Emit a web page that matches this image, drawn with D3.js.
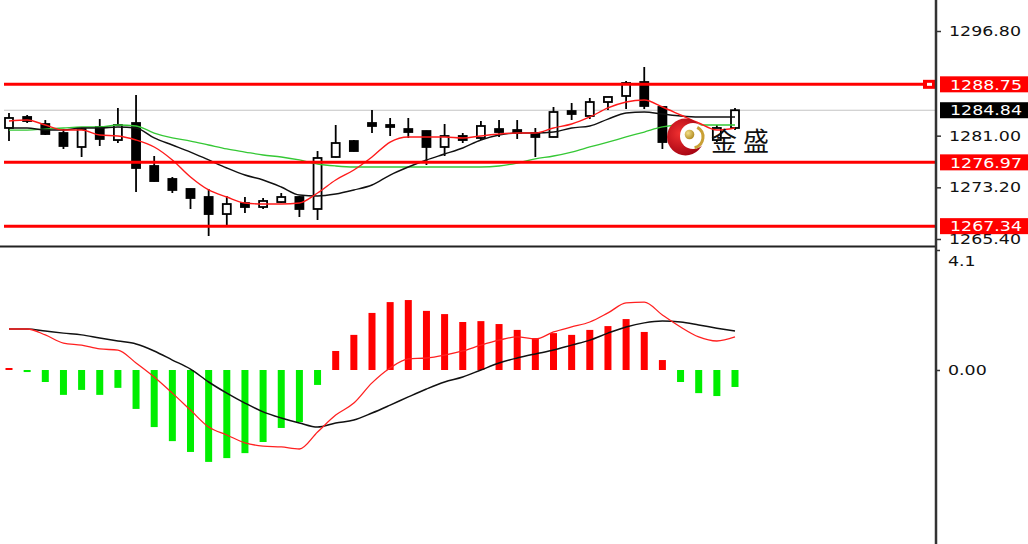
<!DOCTYPE html>
<html><head><meta charset="utf-8">
<script src="https://cdn.jsdelivr.net/npm/d3@7"></script>
<style>html,body{margin:0;padding:0;background:#fff;overflow:hidden}</style>
</head><body><svg id="c" width="1028" height="544" style="display:block"></svg>
<script>
// ---------- DATA ----------
const opens  = [1282.16,1283.82,1282.76,1281.40,1279.29,1282.31,1280.34,1282.91,1276.42,1274.46,1272.95,1271.74,1269.17,1270.83,1270.23,1270.98,1271.74,1269.93,1277.78,1280.19,1282.91,1282.61,1282.00,1281.70,1279.29,1280.95,1280.65,1282.00,1281.85,1281.40,1280.80,1284.72,1283.97,1286.08,1286.99,1289.10,1285.33,1280.80,1280.65,1280.34,1282.16];
const highs  = [1284.42,1284.12,1283.36,1282.00,1282.16,1283.51,1285.18,1287.14,1277.93,1274.76,1273.00,1272.95,1271.89,1271.74,1271.59,1272.34,1271.89,1278.68,1282.61,1280.34,1284.87,1283.67,1283.67,1281.75,1282.76,1281.40,1283.21,1283.36,1283.36,1282.16,1285.33,1285.93,1286.69,1286.84,1289.25,1291.37,1285.40,1281.85,1281.85,1282.61,1285.18];
const lows   = [1280.19,1282.91,1281.10,1278.99,1277.78,1279.44,1279.89,1272.49,1274.05,1272.34,1269.93,1265.85,1267.36,1269.32,1269.93,1270.83,1268.72,1268.27,1277.70,1278.60,1281.40,1280.95,1280.65,1276.57,1277.93,1279.89,1280.34,1280.80,1280.50,1277.78,1280.75,1283.36,1283.51,1284.87,1285.02,1285.02,1278.99,1279.14,1279.59,1280.04,1281.85];
const closes = [1283.67,1283.21,1281.25,1279.44,1282.00,1280.50,1282.61,1276.12,1274.15,1272.80,1271.59,1269.17,1270.68,1270.23,1271.14,1271.74,1269.93,1277.63,1279.89,1278.68,1282.46,1282.31,1281.55,1279.29,1280.95,1280.34,1282.46,1281.55,1281.40,1280.80,1284.57,1284.27,1286.08,1286.84,1288.95,1285.48,1280.04,1280.34,1281.25,1282.16,1284.84];

const maRed   = [1283.21,1283.36,1282.61,1281.85,1281.85,1281.10,1280.95,1280.34,1279.29,1277.33,1274.76,1272.80,1271.74,1270.83,1270.68,1270.68,1270.83,1272.34,1274.31,1275.82,1277.78,1280.04,1280.80,1280.80,1280.80,1280.65,1280.95,1281.25,1281.40,1281.40,1282.16,1282.76,1283.82,1285.18,1286.08,1286.38,1285.33,1284.12,1282.91,1281.85,1282.16];
const maBlack = [1282.16,1282.16,1281.85,1281.85,1282.16,1282.16,1282.31,1282.16,1280.65,1279.59,1278.53,1277.33,1276.12,1275.06,1274.31,1273.25,1272.04,1271.89,1272.19,1272.80,1273.55,1275.06,1276.27,1277.33,1278.23,1279.14,1280.34,1281.10,1281.40,1281.40,1281.55,1282.16,1282.46,1283.51,1284.42,1284.57,1284.27,1283.97,1283.82,1283.82,1283.82];
const maGreen = [1281.85,1281.85,1282.00,1282.16,1282.31,1282.31,1282.61,1282.46,1281.40,1280.65,1280.19,1279.59,1278.99,1278.53,1278.08,1277.78,1277.33,1276.72,1276.42,1276.27,1276.27,1276.27,1276.27,1276.27,1276.27,1276.27,1276.27,1276.42,1276.87,1277.48,1277.93,1278.53,1279.29,1280.04,1280.80,1281.55,1282.31,1282.61,1282.61,1282.61,1282.61];

const macdHist  = [0.05,-0.07,-0.41,-0.85,-0.68,-0.85,-0.61,-1.33,-1.95,-2.43,-2.80,-3.14,-3.01,-2.84,-2.46,-1.98,-1.78,-0.51,0.65,1.20,1.95,2.32,2.39,2.02,1.91,1.64,1.67,1.57,1.37,1.09,1.26,1.20,1.37,1.50,1.74,1.30,0.34,-0.41,-0.79,-0.89,-0.58];
const macdBlack = [1.40,1.40,1.33,1.26,1.20,1.09,0.99,0.89,0.65,0.34,0.03,-0.41,-0.79,-1.13,-1.43,-1.64,-1.81,-1.95,-1.81,-1.71,-1.47,-1.20,-0.92,-0.65,-0.41,-0.24,0.00,0.24,0.41,0.55,0.68,0.85,1.02,1.26,1.47,1.61,1.67,1.64,1.54,1.43,1.33];
const macdRed   = [1.40,1.40,1.20,0.92,0.85,0.72,0.68,0.24,-0.24,-0.79,-1.37,-1.95,-2.22,-2.49,-2.60,-2.63,-2.70,-2.12,-1.54,-1.13,-0.44,0.07,0.38,0.41,0.51,0.65,0.85,1.02,1.13,1.06,1.30,1.47,1.64,1.95,2.29,2.32,1.88,1.47,1.13,0.99,1.13];

const priceTicks = [1296.80, 1281.00, 1273.20, 1265.40];
const levels = [1288.75, 1276.97, 1267.34];
const lastPrice = 1284.84;
const macdTicks = [4.1, 0.00];
const macdTickLabels = ["4.1", "0.00"];
const brandText = "金盛";

// ---------- SCALES ----------
const svg = d3.select("#c");
const axisX = 936;
const x = d3.scaleLinear().domain([0, 40]).range([9, 735]);
const y = d3.scaleLinear().domain([1265.40, 1296.80]).range([239, 31]);
const ym = d3.scaleLinear().domain([0, 4.1]).range([370, 250]);
const idx = d3.range(opens.length);
const FONT = "'DejaVu Sans', Verdana, sans-serif";

svg.append("defs").call(d => {
  d.append("clipPath").attr("id","cm").append("rect").attr("x",0).attr("y",0).attr("width",axisX).attr("height",245);
  d.append("clipPath").attr("id","cd").append("rect").attr("x",0).attr("y",249).attr("width",axisX).attr("height",295);
  const g = d.append("radialGradient").attr("id","rg").attr("cx","35%").attr("cy","40%").attr("r","70%");
  g.append("stop").attr("offset","0%").attr("stop-color","#f03030");
  g.append("stop").attr("offset","100%").attr("stop-color","#a00010");
  const g2 = d.append("radialGradient").attr("id","gg").attr("cx","35%").attr("cy","35%").attr("r","70%");
  g2.append("stop").attr("offset","0%").attr("stop-color","#f4e08a");
  g2.append("stop").attr("offset","100%").attr("stop-color","#b08a20");
});

// ---------- MAIN PANE ----------
const main = svg.append("g").attr("clip-path","url(#cm)");

main.append("line").attr("x1",4).attr("x2",axisX).attr("y1",y(lastPrice)).attr("y2",y(lastPrice))
  .attr("stroke","#c4c4c4").attr("stroke-width",1.2);

// candles
const cg = main.append("g");
const bw = 8;
idx.forEach(i => {
  const up = closes[i] >= opens[i];
  cg.append("line").attr("x1",x(i)).attr("x2",x(i)).attr("y1",y(highs[i])).attr("y2",y(lows[i]))
    .attr("stroke","#000").attr("stroke-width",1.8);
  const top = y(Math.max(opens[i],closes[i])), bot = y(Math.min(opens[i],closes[i]));
  cg.append("rect").attr("x",x(i)-bw/2).attr("y",top).attr("width",bw).attr("height",Math.max(bot-top,1.5))
    .attr("fill", up ? "#fff" : "#000").attr("stroke","#000").attr("stroke-width",1.8);
});

const lineP = d3.line().x((d,i)=>x(i)).y(d=>y(d)).curve(d3.curveMonotoneX);
main.append("path").datum(maGreen).attr("d",lineP).attr("fill","none").attr("stroke","#35c835").attr("stroke-width",1.3);
main.append("path").datum(maBlack).attr("d",lineP).attr("fill","none").attr("stroke","#111").attr("stroke-width",1.4);
main.append("path").datum(maRed).attr("d",lineP).attr("fill","none").attr("stroke","#ff1a1a").attr("stroke-width",1.4);

levels.forEach(l => {
  main.append("line").attr("x1",4).attr("x2",axisX).attr("y1",y(l)).attr("y2",y(l))
    .attr("stroke","#ff0000").attr("stroke-width",3);
});
// small marker on top level
svg.append("rect").attr("x",923).attr("y",y(levels[0])-4.5).attr("width",13).attr("height",9).attr("fill","#ff0000");
svg.append("rect").attr("x",927).attr("y",y(levels[0])-1.5).attr("width",5).attr("height",3).attr("fill","#fff");

// logo
const logo = svg.append("g");
logo.append("circle").attr("cx",685.5).attr("cy",137).attr("r",18.5).attr("fill","url(#rg)");
logo.append("circle").attr("cx",693).attr("cy",136).attr("r",13).attr("fill","#fff");
const arc = d3.arc().innerRadius(9.5).outerRadius(12.5).startAngle(0.5).endAngle(2.9);
logo.append("path").attr("d",arc()).attr("transform","translate(692,137)").attr("fill","#c9a035");
logo.append("circle").attr("cx",689.5).attr("cy",134.5).attr("r",4.8).attr("fill","url(#gg)");
svg.append("text").attr("x",711).attr("y",151).text(brandText)
  .attr("font-family","'Noto Sans CJK SC', sans-serif").attr("font-size",26).attr("letter-spacing",6).attr("fill","#111");

// ---------- MACD PANE ----------
const md = svg.append("g").attr("clip-path","url(#cd)");
md.selectAll("rect.h").data(macdHist).join("rect").attr("class","h")
  .attr("x",(d,i)=>x(i)-3.5).attr("width",7)
  .attr("y",d=> d>=0 ? Math.min(ym(d), ym(0)-2) : ym(0))
  .attr("height",d=> Math.max(Math.abs(ym(d)-ym(0)),2))
  .attr("fill",d=> d>=0 ? "#ff0000" : "#00ee00");
const lineM = d3.line().x((d,i)=>x(i)).y(d=>ym(d)).curve(d3.curveMonotoneX);
md.append("path").datum(macdBlack).attr("d",lineM).attr("fill","none").attr("stroke","#111").attr("stroke-width",1.5);
md.append("path").datum(macdRed).attr("d",lineM).attr("fill","none").attr("stroke","#ff2020").attr("stroke-width",1.3);

// ---------- AXES / FRAME ----------
svg.append("line").attr("x1",0).attr("x2",axisX+1).attr("y1",246.5).attr("y2",246.5).attr("stroke","#222").attr("stroke-width",2);
svg.append("line").attr("x1",axisX).attr("x2",axisX).attr("y1",0).attr("y2",544).attr("stroke","#333").attr("stroke-width",2.5);

function stretch(sel, f){
  sel.each(function(){ const w=this.getComputedTextLength(); d3.select(this).attr("textLength",w*f).attr("lengthAdjust","spacingAndGlyphs"); });
}

const ay = svg.append("g").attr("transform",`translate(${axisX},0)`)
  .call(d3.axisRight(y).tickValues(priceTicks).tickSize(5).tickPadding(8).tickFormat(d3.format(".2f")));
ay.select(".domain").remove();
ay.selectAll("line").attr("stroke","#333").attr("stroke-width",1.5);
ay.selectAll("text").attr("font-family",FONT).attr("font-size",14.5).attr("fill","#111").call(stretch,1.2);

const am = svg.append("g").attr("transform",`translate(${axisX},0)`)
  .call(d3.axisRight(ym).tickValues(macdTicks).tickSize(4).tickPadding(8).tickFormat((d,i)=>macdTickLabels[i]));
am.select(".domain").remove();
am.selectAll("line").attr("stroke","#333").attr("stroke-width",1.5);
am.selectAll("text").attr("font-family",FONT).attr("font-size",14.5).attr("fill","#111")
  .attr("dy",(d,i)=> i===0 ? "1.1em" : "0.32em").call(stretch,1.2);

// price labels
function tag(v, bg){
  const g = svg.append("g");
  g.append("rect").attr("x",940).attr("y",y(v)-8).attr("width",88).attr("height",16).attr("fill",bg);
  g.append("text").attr("x",950).attr("y",y(v)).attr("dy","0.36em").text(d3.format(".2f")(v))
    .attr("font-family",FONT).attr("font-size",14.5).attr("fill","#fff").call(stretch,1.2);
}
levels.forEach(l => tag(l, "#ff0000"));
tag(lastPrice, "#000");
</script>
</body></html>
